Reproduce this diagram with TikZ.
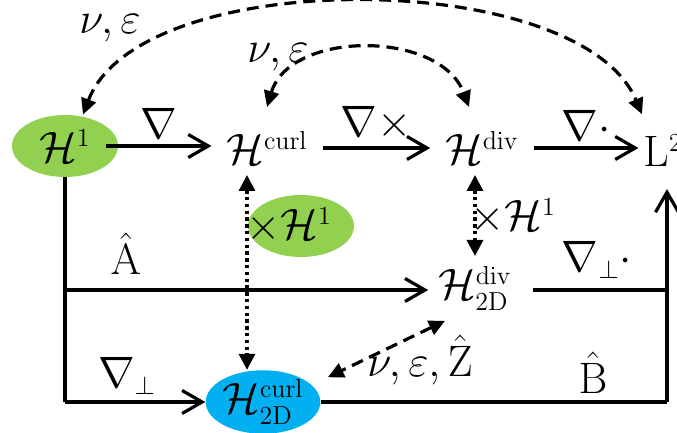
\documentclass[tikz,border=0pt]{standalone}
\usepackage{fix-cm}
\usepackage{tikz}
\usetikzlibrary{arrows.meta,positioning,shapes.geometric}
\DeclareMathSizes{22}{22}{13}{10}
\definecolor{lgreen}{HTML}{92D050}
\definecolor{lblue}{HTML}{00B0F0}

\begin{document}
\begin{tikzpicture}[
  x=0.5pt, y=-0.5pt,
  every node/.style={font=\fontsize{22}{26}\selectfont, inner sep=0pt},
  txt/.style={outer xsep=7.5pt, outer ysep=5pt, anchor=base},
  ell/.style={ellipse, minimum width=53pt, minimum height=31pt},
  arr/.style={-{Straight Barb[length=10pt,width=11.5pt]}, line width=1.6pt},
  seg/.style={line width=1.6pt},
  dasharr/.style={{Triangle[length=8pt,width=7.5pt]}-{Triangle[length=8pt,width=7.5pt]}, line width=1.6pt, dash pattern=on 6pt off 3.5pt},
  dotarr/.style={{Triangle[length=8pt,width=8pt]}-{Triangle[length=8pt,width=8pt]}, line width=1.6pt, dash pattern=on 1.7pt off 1.7pt}
]
\useasboundingbox (0,0) rectangle (677,433);

\node[ell, fill=lgreen] (h1) at (65,146) {$\mathcal{H}^1$};
\node[txt] (hcurl) at (267,165) {$\mathcal{H}^{\mathrm{curl}}$};
\node[txt] (hdiv) at (482,165) {$\mathcal{H}^{\mathrm{div}}$};
\node[txt] (l2) at (663,167) {$\mathrm{L}^2$};
\node[ell, fill=lgreen] (hx) at (301,226) {};
\node[txt] (hxlbl) at (289,240) {$\times\mathcal{H}^1$};
\node[txt] (hxr) at (513,231) {$\times\mathcal{H}^1$};
\node[txt] (h2ddiv) at (475,300) {$\mathcal{H}^{\mathrm{div}}_{\mathrm{2D}}$};
\node[ell, fill=lblue] (h2dcurl) at (263,402) {$\mathcal{H}^{\mathrm{curl}}_{\mathrm{2D}}$};

\coordinate (bl) at (h1.south |- h2dcurl.west);
\coordinate (ml) at (65,290);
\coordinate (br) at (667,402);
\coordinate (mr) at (667,290);

\draw[arr] ([xshift=-6pt]h1.east) -- (h1.east -| hcurl.west) node[midway, above=3pt] (lgrad) {$\nabla$};
\draw[arr] (hcurl.east) -- (hdiv.west) node[midway, above=3pt] (lcurl) {$\nabla\times$};
\draw[arr] (hdiv.east) -- ([xshift=5pt]hdiv.east -| l2.west) node[midway, above=3pt] (ldiv) {$\nabla\cdot$};

\draw[seg] (h1.south) -- (bl);
\draw[arr] (bl) -- (h2dcurl.west);
\draw[arr] (ml) -- ([xshift=2.5pt]ml -| h2ddiv.west);
\draw[seg] ([xshift=3pt]ml -| h2ddiv.east) -- (mr);
\draw[seg] (h2dcurl.east) -- (br);
\draw[arr] (br) -- ([yshift=-6pt]br |- l2.south);

\node (lahat) at (126,254) {$\hat{\mathrm{A}}$};
\node (lperp) at (127,376) {$\nabla_{\perp}$};
\node (lperpdot) at (597,260) {$\nabla_{\perp}\cdot$};
\node (lbhat) at (593,373) {$\hat{\mathrm{B}}$};

\draw[dasharr] ([xshift=9pt]h1.north) .. controls +(57,-150) and +(-62,-147) .. ([xshift=-10.5pt,yshift=5pt]l2.north);
\draw[dasharr] ([yshift=7pt]hcurl.north) .. controls +(23,-77) and +(-29,-77) .. ([xshift=-6.5pt,yshift=7pt]hdiv.north);
\draw[dasharr] ([xshift=-15pt]h2ddiv.south) -- ([xshift=12pt,yshift=1pt]h2dcurl.north east);
\node (lne1) at (110,28) {$\nu,\varepsilon$};
\node (lne2) at (278,57) {$\nu,\varepsilon$};
\node (lnez) at (420,360) {$\nu,\varepsilon,\hat{\mathrm{Z}}$};

\draw[dotarr] ([xshift=-10pt]hcurl.south) -- ([xshift=-8pt]h2dcurl.north);
\draw[dotarr] ([xshift=-3.5pt]hdiv.south) -- (h2ddiv.north);
\end{tikzpicture}
\end{document}
